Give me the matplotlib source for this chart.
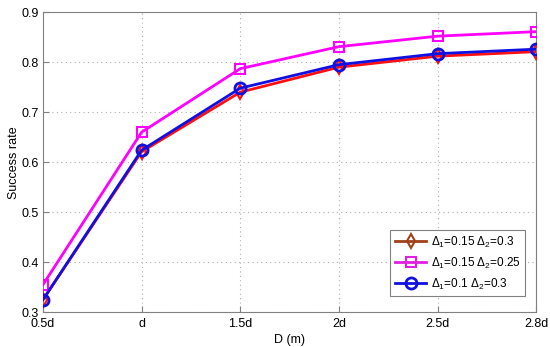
#!/usr/bin/env python3
import numpy as np
import matplotlib.pyplot as plt
from matplotlib.lines import Line2D

# Data
dist_labels = ['0.5d', 'd', '1.5d', '2d', '2.5d', '2.8d']
rate_015_03 = [0.325, 0.621, 0.740, 0.790, 0.812, 0.821]
rate_015_025 = [0.355, 0.660, 0.787, 0.831, 0.852, 0.861]
rate_01_03 = [0.325, 0.624, 0.748, 0.795, 0.817, 0.826]

plt.rcParams['font.family'] = ['Liberation Sans', 'DejaVu Sans']
plt.rcParams['mathtext.fontset'] = 'custom'
plt.rcParams['mathtext.rm'] = 'Liberation Sans'
plt.rcParams['mathtext.it'] = 'Liberation Sans'

fig = plt.figure(figsize=(5.5, 3.47), dpi=100)
ax = fig.add_axes([0.078, 0.10, 0.897, 0.865])

index = np.arange(len(dist_labels))
ax.plot(index, rate_015_03, color='#ff1010', lw=2, marker='d', ms=7,
        mfc='none', mec='#ff1010', mew=1.5, zorder=3)
ax.plot(index, rate_015_025, color='#ff00ff', lw=2, marker='s', ms=7,
        mfc='none', mec='#ff00ff', mew=1.5, zorder=3)
ax.plot(index, rate_01_03, color='#1010e0', lw=2, marker='o', ms=8,
        mfc='none', mec='#1010e0', mew=2, zorder=4)

ax.set_xlim(0, len(dist_labels) - 1)
ax.set_ylim(0.3, 0.9)
ax.set_xticks(index)
ax.set_xticklabels(dist_labels)
ax.set_yticks(np.arange(0.3, 0.91, 0.1))
ax.set_yticklabels(['0.3', '0.4', '0.5', '0.6', '0.7', '0.8', '0.9'])
ax.tick_params(labelsize=9, direction='in', length=4, color='#808080')
ax.tick_params(axis='x', pad=4)
ax.tick_params(axis='y', pad=3)
ax.grid(True, linestyle=(0, (1, 3)), color='#b0b0b0', lw=0.8)
for s in ax.spines.values():
    s.set_color('#808080')

ax.set_xlabel('D (m)', fontsize=9, labelpad=3)
ax.set_ylabel('Success rate', fontsize=9, labelpad=1)

handles = [
    Line2D([], [], color='#a0401a', lw=2, marker='d', ms=7, mfc='none', mew=1.5),
    Line2D([], [], color='#e020e0', lw=2, marker='s', ms=7, mfc='none', mew=1.5),
    Line2D([], [], color='#1010e0', lw=2, marker='o', ms=8, mfc='none', mew=2),
]
labels = [r'$\Delta_1$=0.15 $\Delta_2$=0.3',
          r'$\Delta_1$=0.15 $\Delta_2$=0.25',
          r'$\Delta_1$=0.1 $\Delta_2$=0.3']
leg = ax.legend(handles, labels, loc='lower right', bbox_to_anchor=(0.978, 0.053),
                borderaxespad=0, fontsize=8.5, fancybox=False, edgecolor='#808080',
                framealpha=1, handlelength=2.6, handletextpad=0.4,
                borderpad=0.4, labelspacing=0.5)
leg.get_frame().set_linewidth(0.8)

fig.savefig('out.png', dpi=100)
